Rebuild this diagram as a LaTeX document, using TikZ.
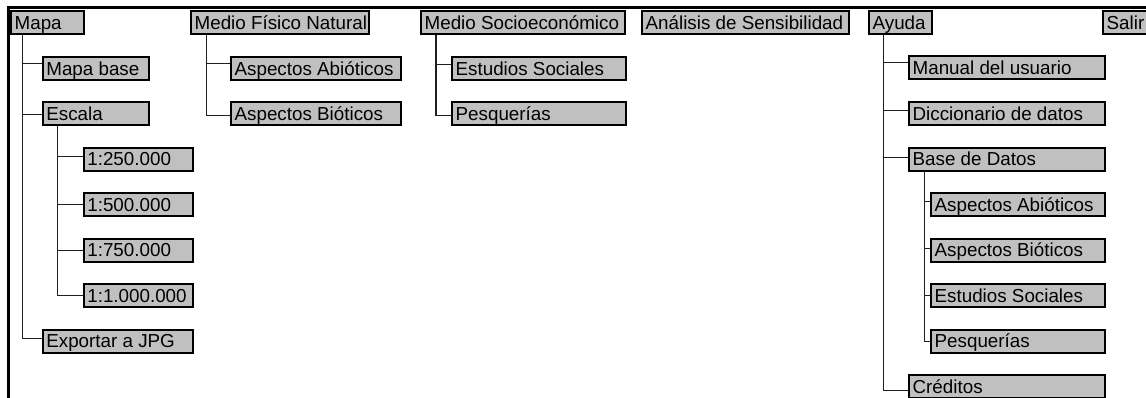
\documentclass[tikz,border=0pt]{standalone}
\usepackage{fontspec}
\setmainfont{Liberation Sans}
\newcommand\lbx[2]{\makebox[#1][l]{#2}}
\begin{document}
\begin{tikzpicture}[x=1pt,y=-1pt,
  mbox/.style={draw=black, line width=2.3pt, fill=boxgray, anchor=north west,
    inner xsep=3.5pt, inner ysep=0pt, minimum height=23pt,
    font=\fontsize{18.8}{20}\selectfont, text height=13.6pt, text depth=0pt},
  conn/.style={draw=black!88, line width=1.3pt},
  frame/.style={draw=black, line width=2.7pt}]
\definecolor{boxgray}{HTML}{C0C0C0}
\useasboundingbox (0,0) rectangle (1146,397);
\clip (0,0) rectangle (1146,397);
% frame
\coordinate (fo) at (8.5,400);
\coordinate (fc) at (8.5,7.5);
\coordinate (fe) at (1150,7.5);
\draw[frame] (fo) -- (fc) -- (fe);
% top row
\node[mbox] (mapa)  at (10,10)  {\lbx{66pt}{Mapa}};
\node[mbox] (mfn)   at (190,10) {\lbx{171pt}{Medio Físico Natural}};
\node[mbox] (mse)   at (420,10) {\lbx{197pt}{Medio Socioeconómico}};
\node[mbox] (ads)   at (641,10) {\lbx{200pt}{Análisis de Sensibilidad}};
\node[mbox] (ayuda) at (868,10) {\lbx{56pt}{Ayuda}};
\node[mbox] (salir) at (1102,10) {\lbx{60pt}{Salir}};
% Mapa subtree
\node[mbox] (mb)   at (41.7,56)    {\lbx{99pt}{Mapa base}};
\node[mbox] (esc)  at (41.7,101)   {\lbx{99pt}{Escala}};
\node[mbox] (e250) at (82.7,146.5) {\lbx{102pt}{1:250.000}};
\node[mbox] (e500) at (82.7,192)   {\lbx{102pt}{1:500.000}};
\node[mbox] (e750) at (82.7,237.5) {\lbx{102pt}{1:750.000}};
\node[mbox] (e1m)  at (82.7,283)   {\lbx{102pt}{1:1.000.000}};
\node[mbox] (exp)  at (41.7,328.5) {\lbx{143pt}{Exportar a JPG}};
% Medio Fisico Natural subtree
\node[mbox] (aab)  at (230,56)  {\lbx{163pt}{Aspectos Abióticos}};
\node[mbox] (abi)  at (230,101) {\lbx{163pt}{Aspectos Bióticos}};
% Medio Socioeconomico subtree
\node[mbox] (es)   at (451,56)  {\lbx{167pt}{Estudios Sociales}};
\node[mbox] (pes)  at (451,101) {\lbx{167pt}{Pesquerías}};
% Ayuda subtree
\node[mbox] (man)  at (908,55)    {\lbx{189pt}{Manual del usuario}};
\node[mbox] (dic)  at (908,101)   {\lbx{189pt}{Diccionario de datos}};
\node[mbox] (bd)   at (908,146.5) {\lbx{189pt}{Base de Datos}};
\node[mbox] (aab2) at (930,192)   {\lbx{167pt}{Aspectos Abióticos}};
\node[mbox] (abi2) at (930,237.5) {\lbx{167pt}{Aspectos Bióticos}};
\node[mbox] (es2)  at (930,283)   {\lbx{167pt}{Estudios Sociales}};
\node[mbox] (pes2) at (930,328.5) {\lbx{167pt}{Pesquerías}};
\node[mbox] (cre)  at (908,374)   {\lbx{189pt}{Créditos}};
% connectors: Mapa
\draw[conn] ([xshift=12.7pt]mapa.south west) |- ([yshift=5.5pt]mb.west);
\draw[conn] ([xshift=12.7pt]mapa.south west) |- ([yshift=-0.5pt]esc.west);
\draw[conn] ([xshift=12.7pt]mapa.south west) |- ([yshift=3pt]exp.west);
\draw[conn] ([xshift=16pt]esc.south west) |- ([yshift=2.5pt]e250.west);
\draw[conn] ([xshift=16pt]esc.south west) |- ([yshift=0pt]e500.west);
\draw[conn] ([xshift=16pt]esc.south west) |- ([yshift=0pt]e750.west);
\draw[conn] ([xshift=16pt]esc.south west) |- ([yshift=0pt]e1m.west);
% connectors: Medio Fisico Natural
\draw[conn] ([xshift=16.7pt]mfn.south west) |- ([yshift=5.5pt]aab.west);
\draw[conn] ([xshift=16.7pt]mfn.south west) |- ([yshift=-1.5pt]abi.west);
% connectors: Medio Socioeconomico
\draw[conn] ([xshift=16pt]mse.south west) |- ([yshift=4.5pt]es.west);
\draw[conn] ([xshift=16pt]mse.south west) |- ([yshift=-1.5pt]pes.west);
% connectors: Ayuda
\draw[conn] ([xshift=15.7pt]ayuda.south west) |- ([yshift=5pt]man.west);
\draw[conn] ([xshift=15.7pt]ayuda.south west) |- ([yshift=3.5pt]dic.west);
\draw[conn] ([xshift=15.7pt]ayuda.south west) |- ([yshift=1.5pt]bd.west);
\draw[conn] ([xshift=15.7pt]ayuda.south west) |- ([yshift=-3.5pt]cre.west);
\draw[conn] ([xshift=16.3pt]bd.south west) |- ([yshift=3pt]aab2.west);
\draw[conn] ([xshift=16.3pt]bd.south west) |- ([yshift=2pt]abi2.west);
\draw[conn] ([xshift=16.3pt]bd.south west) |- ([yshift=0pt]es2.west);
\draw[conn] ([xshift=16.3pt]bd.south west) |- ([yshift=0pt]pes2.west);
\end{tikzpicture}
\end{document}
